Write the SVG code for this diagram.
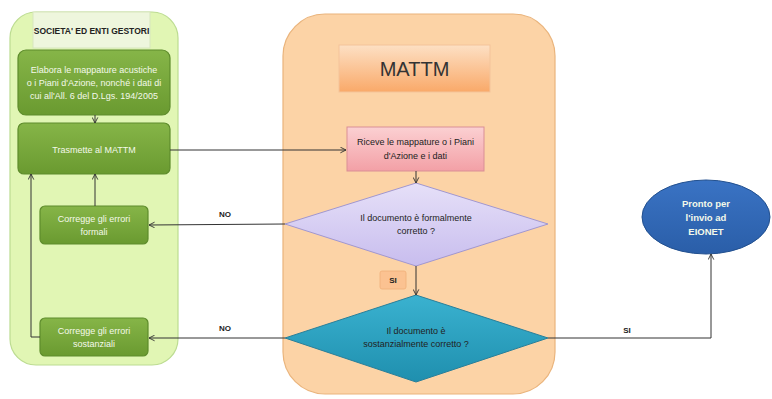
<svg xmlns="http://www.w3.org/2000/svg" width="772" height="399" viewBox="0 0 772 399">
<defs>
<linearGradient id="gGreen" x1="0" y1="0" x2="0" y2="1"><stop offset="0" stop-color="#86b548"/><stop offset="1" stop-color="#6a9a30"/></linearGradient>
<linearGradient id="gOr" x1="0" y1="0" x2="0" y2="1"><stop offset="0" stop-color="#fde0c4"/><stop offset="1" stop-color="#f9a969"/></linearGradient>
<linearGradient id="gPink" x1="0" y1="0" x2="0" y2="1"><stop offset="0" stop-color="#fbd0d2"/><stop offset="1" stop-color="#f3a0a6"/></linearGradient>
<linearGradient id="gLav" x1="0" y1="0" x2="0" y2="1"><stop offset="0" stop-color="#e6e0f8"/><stop offset="1" stop-color="#c8bdee"/></linearGradient>
<linearGradient id="gTeal" x1="0" y1="0" x2="0" y2="1"><stop offset="0" stop-color="#3ab2d0"/><stop offset="1" stop-color="#1f8fae"/></linearGradient>
<linearGradient id="gBlue" x1="0" y1="0" x2="0" y2="1"><stop offset="0" stop-color="#3a73c4"/><stop offset="1" stop-color="#2a5ea8"/></linearGradient>
<marker id="arr" viewBox="0 0 10 10" refX="9" refY="5" markerWidth="7" markerHeight="7" orient="auto"><path d="M1,1 L9,5 L1,9" fill="none" stroke="#333" stroke-width="1.3"/></marker>
</defs>
<style>
text{font-family:"Liberation Sans","Open Sans",Arial,sans-serif;text-anchor:middle}
.w{fill:#f4f9ea;font-size:9px}
.k{fill:#222;font-size:9px}
.b{font-weight:bold}
.gb{fill:url(#gGreen);stroke:#5e8c2c;stroke-width:1.2}
.ln{fill:none;stroke:#333;stroke-width:1}
</style>
<rect width="772" height="399" fill="#ffffff"/>
<g id="lane-left">
<rect x="10" y="12" width="168" height="353" rx="26" fill="#e1f6b4" stroke="#bcdc91" stroke-width="1.2"/>
<rect x="33" y="12" width="117" height="36" fill="#eef6dd" stroke="#d7e6bd" stroke-width="1"/>
<text class="k b" x="91.5" y="34" style="font-size:8.5px">SOCIETA' ED ENTI GESTORI</text>
</g>
<g id="lane-mattm">
<rect x="283" y="14" width="272" height="380" rx="42" fill="#fcd3a6" stroke="#eab47c" stroke-width="1.2"/>
<rect x="339" y="45" width="151" height="47" fill="url(#gOr)" stroke="#f3c49a" stroke-width="1"/>
<text x="414.5" y="76" style="font-size:20px;fill:#333">MATTM</text>
</g>
<g id="n-elabora">
<rect class="gb" x="18" y="50" width="152" height="65" rx="8"/>
<text class="w" x="94" y="73">Elabora  le mappature acustiche</text>
<text class="w" x="94" y="86">o i Piani d'Azione, nonché i dati di</text>
<text class="w" x="94" y="99">cui all'All. 6 del D.Lgs. 194/2005</text>
</g>
<g id="n-trasmette">
<rect class="gb" x="18" y="123" width="152" height="51" rx="6"/>
<text class="w" x="94" y="153">Trasmette al MATTM</text>
</g>
<g id="n-formali">
<rect class="gb" x="40" y="206" width="108" height="38" rx="5"/>
<text class="w" x="94" y="222">Corregge gli errori</text>
<text class="w" x="94" y="235">formali</text>
</g>
<g id="n-sostanziali">
<rect class="gb" x="40" y="318" width="108" height="38" rx="5"/>
<text class="w" x="94" y="334">Corregge gli errori</text>
<text class="w" x="94" y="347">sostanziali</text>
</g>
<g id="n-riceve">
<rect x="347" y="127" width="137" height="44" fill="url(#gPink)" stroke="#d98f95" stroke-width="1"/>
<text class="k" x="415.5" y="145">Riceve le mappature o i Piani</text>
<text class="k" x="415.5" y="159">d'Azione e i dati</text>
</g>
<g id="n-formal-check">
<polygon points="416,183 548,224 416,266 285,224" fill="url(#gLav)" stroke="#a197cf" stroke-width="1"/>
<text class="k" x="416" y="221">Il  documento è formalmente</text>
<text class="k" x="416" y="234">corretto ?</text>
</g>
<g id="n-si-label">
<rect x="380" y="271" width="26" height="18" rx="2" fill="#fbc291" stroke="#f0b07a" stroke-width="0.8"/>
<text class="k b" x="393" y="283" style="font-size:8px">SI</text>
</g>
<g id="n-subst-check">
<polygon points="416,295 548,338 416,382 285,338" fill="url(#gTeal)" stroke="#2a7f99" stroke-width="1"/>
<text class="k" x="416" y="334">Il  documento è</text>
<text class="k" x="416" y="347">sostanzialmente corretto ?</text>
</g>
<g id="n-eionet">
<ellipse cx="706" cy="217" rx="64" ry="37" fill="url(#gBlue)" stroke="#22508f" stroke-width="1"/>
<text class="w b" x="706" y="207" style="font-size:9.5px">Pronto per</text>
<text class="w b" x="706" y="221" style="font-size:9.5px">l'invio ad</text>
<text class="w b" x="706" y="235" style="font-size:9.5px">EIONET</text>
</g>
<g id="connectors">
<line class="ln" x1="95" y1="115" x2="95" y2="123" marker-end="url(#arr)"/>
<line class="ln" x1="170" y1="150" x2="346" y2="150" marker-end="url(#arr)"/>
<line class="ln" x1="416" y1="171" x2="416" y2="183" marker-end="url(#arr)"/>
<line class="ln" x1="416" y1="266" x2="416" y2="295" marker-end="url(#arr)"/>
<line class="ln" x1="285" y1="224" x2="149" y2="225" marker-end="url(#arr)"/>
<text class="k b" x="225" y="217" style="font-size:8px">NO</text>
<line class="ln" x1="285" y1="338" x2="149" y2="338" marker-end="url(#arr)"/>
<text class="k b" x="225" y="331" style="font-size:8px">NO</text>
<line class="ln" x1="95" y1="206" x2="95" y2="174" marker-end="url(#arr)"/>
<polyline class="ln" points="40,337 31,337 31,174" marker-end="url(#arr)"/>
<polyline class="ln" points="548,338 711,338 711,254" marker-end="url(#arr)"/>
<text class="k b" x="627" y="333" style="font-size:8px">SI</text>
</g>
</svg>
